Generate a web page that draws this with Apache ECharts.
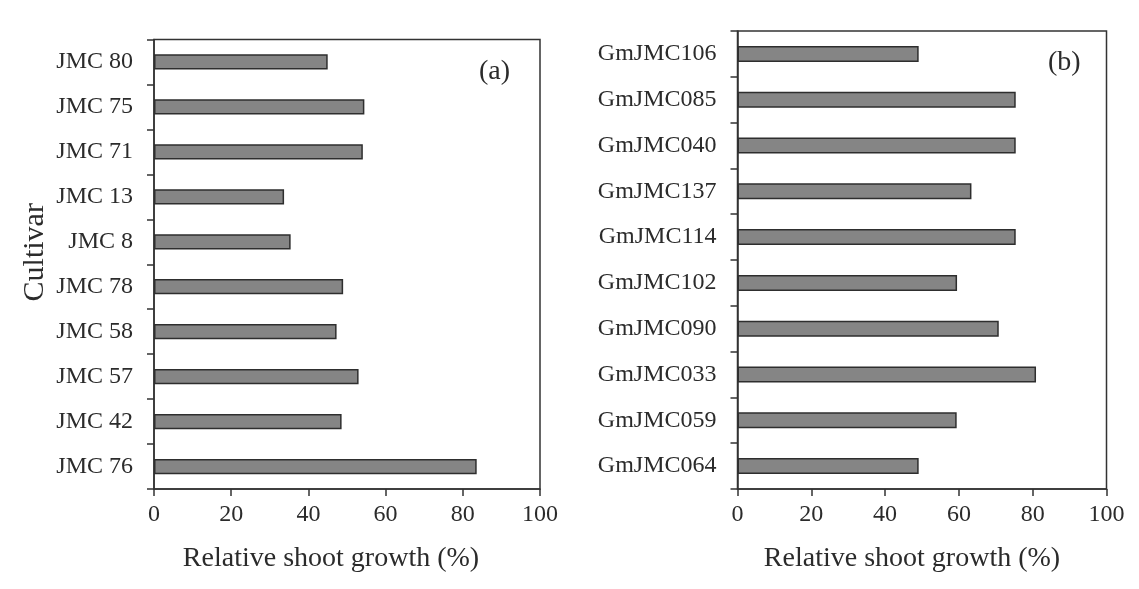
<!DOCTYPE html>
<html>
<head>
<meta charset="utf-8">
<script src="https://cdn.jsdelivr.net/npm/echarts@6/dist/echarts.min.js"></script>
<style>
  html, body { margin: 0; padding: 0; background: #fff; }
  #chart { width: 1139px; height: 589px; }
</style>
</head>
<body>
<div id="chart"></div>
<script>
// Panel (a): cultivars, listed top to bottom
const cultivarsA = ['JMC 80', 'JMC 75', 'JMC 71', 'JMC 13', 'JMC 8', 'JMC 78', 'JMC 58', 'JMC 57', 'JMC 42', 'JMC 76'];
const growthA = [45.0, 54.5, 54.1, 33.7, 35.4, 49.0, 47.3, 53.0, 48.6, 83.6];

// Panel (b): GmJMC lines, listed top to bottom
const cultivarsB = ['GmJMC106', 'GmJMC085', 'GmJMC040', 'GmJMC137', 'GmJMC114', 'GmJMC102', 'GmJMC090', 'GmJMC033', 'GmJMC059', 'GmJMC064'];
const growthB = [49.1, 75.4, 75.4, 63.4, 75.4, 59.5, 70.8, 80.9, 59.4, 49.1];

const xTicks = [0, 20, 40, 60, 80, 100];
const xTitle = 'Relative shoot growth (%)';
const yTitle = 'Cultivar';
const panelTags = ['(a)', '(b)'];

const FONT = '"Liberation Serif", "Times New Roman", serif';
const INK = '#2b2b2b';
const LINE = '#333333';

function valueAxis(gridIndex) {
  return {
    type: 'value',
    gridIndex: gridIndex,
    min: xTicks[0],
    max: xTicks[xTicks.length - 1],
    interval: xTicks[1] - xTicks[0],
    name: xTitle,
    nameLocation: 'middle',
    nameGap: 56,
    nameTextStyle: { fontFamily: FONT, fontSize: 28, color: INK, padding: [0, gridIndex === 0 ? 32 : 20, 0, 0] },
    axisLine: { show: true, lineStyle: { color: LINE, width: 1.5 } },
    axisTick: { show: true, inside: false, length: 7, lineStyle: { color: LINE, width: 1.5 } },
    axisLabel: { fontFamily: FONT, fontSize: 24, color: INK, margin: 14 },
    splitLine: { show: false }
  };
}

function categoryAxis(gridIndex, cats, withName) {
  const ax = {
    type: 'category',
    gridIndex: gridIndex,
    data: cats,
    inverse: true,
    axisLine: { show: true, lineStyle: { color: LINE, width: 1.5 } },
    axisTick: { show: true, inside: false, length: 7, alignWithLabel: false, lineStyle: { color: LINE, width: 1.5 } },
    axisLabel: { fontFamily: FONT, fontSize: 24, color: INK, margin: 21, interval: 0 },
    splitLine: { show: false }
  };
  if (withName) {
    ax.name = yTitle;
    ax.nameLocation = 'middle';
    ax.nameRotate = 90;
    ax.nameGap = 104;
    ax.nameTextStyle = { fontFamily: FONT, fontSize: 30, color: INK, padding: [0, 0, 0, 24] };
  }
  return ax;
}

const barStyle = { color: '#858585', borderColor: '#2e2e2e', borderWidth: 1.5 };

const chart = echarts.init(document.getElementById('chart'), null, { renderer: 'canvas' });
chart.setOption({
  backgroundColor: '#ffffff',
  animation: false,
  grid: [
    { left: 154, right: 599, top: 39.5, bottom: 100, show: true, borderColor: LINE, borderWidth: 1.5, backgroundColor: 'transparent' },
    { left: 737.5, right: 32.5, top: 31, bottom: 100, show: true, borderColor: LINE, borderWidth: 1.5, backgroundColor: 'transparent' }
  ],
  xAxis: [valueAxis(0), valueAxis(1)],
  yAxis: [categoryAxis(0, cultivarsA, true), categoryAxis(1, cultivarsB, false)],
  series: [
    { type: 'bar', xAxisIndex: 0, yAxisIndex: 0, data: growthA, barWidth: '34%', itemStyle: barStyle, silent: true },
    { type: 'bar', xAxisIndex: 1, yAxisIndex: 1, data: growthB, barWidth: '35%', itemStyle: barStyle, silent: true }
  ],
  graphic: [
    { type: 'text', left: 479, top: 58, style: { text: panelTags[0], font: '28px ' + FONT, fill: INK } },
    { type: 'text', left: 1048, top: 49, style: { text: panelTags[1], font: '28px ' + FONT, fill: INK } }
  ]
});
</script>
</body>
</html>
